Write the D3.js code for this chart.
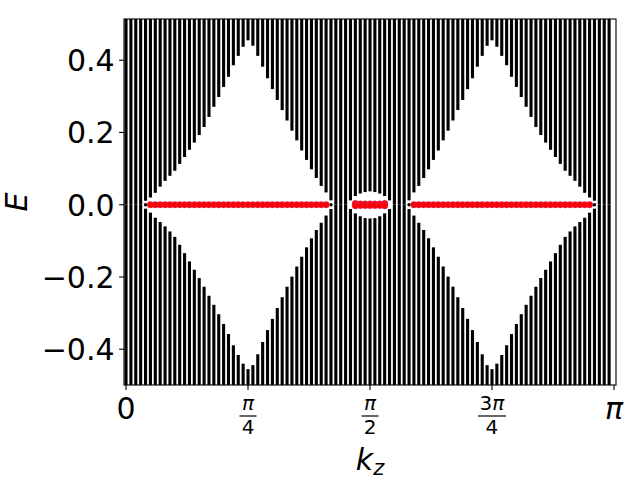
<!DOCTYPE html>
<html><head><meta charset="utf-8">
<script src="https://cdn.jsdelivr.net/npm/d3@7"></script>
<style>body{margin:0;background:#fff}svg{display:block}text{font-family:"DejaVu Sans",sans-serif}</style>
</head><body><svg id="c" width="640" height="480"></svg>
<script>
// kz grid: 100 points, kz_i = i*pi/100
const N = 100;
// upper edge of the bulk (E>0) gap at each kz index
const gapUpper = [0,0,0,0,0.011,0.020,0.033,0.050,0.066,0.080,0.094,0.113,0.132,0.152,0.172,0.193,0.215,0.243,0.271,0.298,0.326,0.354,0.386,0.412,0.437,0.455,0.440,0.412,0.382,0.350,0.320,0.290,0.262,0.233,0.205,0.178,0.150,0.124,0.098,0.074,0.052,0.034,0.012,0,0,0,0.012,0.024,0.031,0.035,0.037,0.035,0.031,0.024,0.012,0,0,0,0.012,0.034,0.052,0.074,0.098,0.124,0.150,0.178,0.205,0.233,0.262,0.290,0.320,0.350,0.382,0.412,0.440,0.455,0.437,0.412,0.386,0.354,0.326,0.298,0.271,0.243,0.215,0.193,0.172,0.152,0.132,0.113,0.094,0.080,0.066,0.050,0.033,0.020,0.011,0,0,0];
// lower edge of the bulk (E<0) gap at each kz index
const gapLower = [0,0,0,0,-0.011,-0.022,-0.036,-0.048,-0.060,-0.074,-0.089,-0.111,-0.134,-0.157,-0.180,-0.203,-0.227,-0.252,-0.277,-0.303,-0.330,-0.358,-0.389,-0.416,-0.440,-0.455,-0.444,-0.414,-0.380,-0.347,-0.316,-0.286,-0.256,-0.227,-0.199,-0.171,-0.144,-0.118,-0.093,-0.070,-0.050,-0.030,-0.012,0,0,0,-0.012,-0.024,-0.032,-0.037,-0.038,-0.037,-0.032,-0.024,-0.012,0,0,0,-0.012,-0.030,-0.050,-0.070,-0.093,-0.118,-0.144,-0.171,-0.199,-0.227,-0.256,-0.286,-0.316,-0.347,-0.380,-0.414,-0.444,-0.455,-0.440,-0.416,-0.389,-0.358,-0.330,-0.303,-0.277,-0.252,-0.227,-0.203,-0.180,-0.157,-0.134,-0.111,-0.089,-0.074,-0.060,-0.048,-0.036,-0.022,-0.011,0,0,0];
// bulk states sitting at E = 0
const zeroBulkIdx = [4,42,58,96];
// surface (Fermi arc) states at E = 0
const surfIdx = [5,6,7,8,9,10,11,12,13,14,15,16,17,18,19,20,21,22,23,24,25,26,27,28,29,30,31,32,33,34,35,36,37,38,39,40,41,
  47,47,48,48,49,49,50,50,51,51,52,52,53,53,
  59,60,61,62,63,64,65,66,67,68,69,70,71,72,73,74,75,76,77,78,79,80,81,82,83,84,85,86,87,88,89,90,91,92,93,94,95];
const surfE = [0,0,0,0,0,0,0,0,0,0,0,0,0,0,0,0,0,0,0,0,0,0,0,0,0,0,0,0,0,0,0,0,0,0,0,0,0,
  0.003,-0.003,0.002,-0.002,0.002,-0.002,0.002,-0.002,0.002,-0.002,0.002,-0.002,0.003,-0.003,
  0,0,0,0,0,0,0,0,0,0,0,0,0,0,0,0,0,0,0,0,0,0,0,0,0,0,0,0,0,0,0,0,0,0,0,0,0];
const xTicks = [0, Math.PI/4, Math.PI/2, 3*Math.PI/4, Math.PI];
const xTickNum = ["0","π","π","3π","π"];
const xTickDen = [null,"4","2","4",null];
const yTicks = [-0.4,-0.2,0.0,0.2,0.4];

const kz = i => i*Math.PI/N;
const svg = d3.select("#c");
const L=124, R=616, T=19, B=385;
const x = d3.scaleLinear().domain([-0.013, Math.PI+0.013]).range([L,R]);
const y = d3.scaleLinear().domain([-0.499, 0.514]).range([B,T]);
const [yMin,yMax] = y.domain();

svg.append("clipPath").attr("id","clip").append("rect").attr("x",L).attr("y",T).attr("width",R-L).attr("height",B-T);
const g = svg.append("g").attr("clip-path","url(#clip)");
const bw = 3.1;
const idx = d3.range(N);
// bulk bars
g.selectAll("rect.up").data(idx).join("rect").attr("class","up")
  .attr("x", i=>x(kz(i))-bw/2).attr("width",bw)
  .attr("y", y(yMax+0.05)).attr("height", i=> y(gapUpper[i]) - y(yMax+0.05))
  .attr("fill","#000");
g.selectAll("rect.dn").data(idx).join("rect").attr("class","dn")
  .attr("x", i=>x(kz(i))-bw/2).attr("width",bw)
  .attr("y", i=>y(gapLower[i])).attr("height", i=> y(yMin-0.05) - y(gapLower[i]))
  .attr("fill","#000");
g.selectAll("circle.zb").data(zeroBulkIdx).join("circle").attr("class","zb")
  .attr("cx", i=>x(kz(i))).attr("cy", y(0)).attr("r",1.7).attr("fill","#000");
// surface states
g.selectAll("circle.s").data(d3.range(surfIdx.length)).join("circle").attr("class","s")
  .attr("cx", j=>x(kz(surfIdx[j]))).attr("cy", j=>y(surfE[j])).attr("r",3.3)
  .attr("fill","#ff0000").attr("stroke","#b0409a").attr("stroke-width",0.5).attr("stroke-opacity",0.7);

// spines
svg.append("rect").attr("x",L).attr("y",T).attr("width",R-L).attr("height",B-T)
  .attr("fill","none").attr("stroke","#000").attr("stroke-width",1.1);

const FS = 30;
// x ticks
const tl = 4.9;
const xt = svg.append("g");
xTicks.forEach((v,k)=>{
  const px = x(v);
  xt.append("line").attr("x1",px).attr("x2",px).attr("y1",B).attr("y2",B+tl).attr("stroke","#000").attr("stroke-width",1.1);
  if(xTickDen[k]===null){
    xt.append("text").attr("x",px).attr("y",419).attr("text-anchor","middle")
      .attr("font-size",FS).attr("font-style", xTickNum[k]==="π"?"italic":"normal").text(xTickNum[k]);
  } else {
    const num = xTickNum[k];
    const t = xt.append("text").attr("x",px).attr("y",410).attr("text-anchor","middle").attr("font-size",20);
    if(num.length>1){ t.append("tspan").text(num[0]); t.append("tspan").attr("font-style","italic").text(num.slice(1)); }
    else t.attr("font-style","italic").text(num);
    const w = num.length>1 ? 28 : 17;
    xt.append("line").attr("x1",px-w/2).attr("x2",px+w/2).attr("y1",416).attr("y2",416).attr("stroke","#000").attr("stroke-width",1.2);
    xt.append("text").attr("x",px).attr("y",434).attr("text-anchor","middle").attr("font-size",20).text(xTickDen[k]);
  }
});
// y ticks
const yt = svg.append("g");
yTicks.forEach(v=>{
  const py = y(v);
  yt.append("line").attr("x1",L-tl).attr("x2",L).attr("y1",py).attr("y2",py).attr("stroke","#000").attr("stroke-width",1.1);
  yt.append("text").attr("x",L-tl-4.5).attr("y",py).attr("dy","0.36em").attr("text-anchor","end")
    .attr("font-size",FS).text(d3.format(".1f")(v).replace("-","−"));
});
// axis labels
const xl = svg.append("text").attr("x",370).attr("y",470).attr("text-anchor","middle").attr("font-size",FS);
xl.append("tspan").attr("font-style","italic").text("k");
xl.append("tspan").attr("font-style","italic").attr("font-size",21).attr("dy",5).text("z");
svg.append("text").attr("transform","translate(27,202) rotate(-90)").attr("text-anchor","middle")
  .attr("font-size",FS).attr("font-style","italic").text("E");
</script></body></html>
